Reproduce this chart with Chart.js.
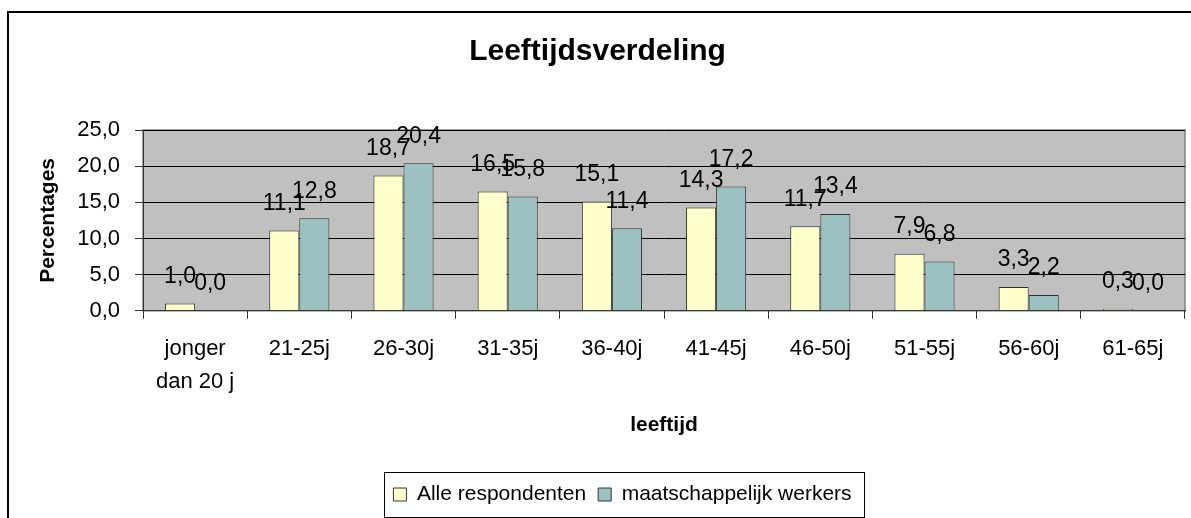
<!DOCTYPE html>
<html>
<head>
<meta charset="utf-8">
<title>Leeftijdsverdeling</title>
<script src="https://cdn.jsdelivr.net/npm/chart.js@4.4.1/dist/chart.umd.min.js"></script>
<style>
  html, body { margin: 0; padding: 0; background: #ffffff; overflow: hidden; }
  #chartBox { width: 1191px; height: 518px; }
</style>
</head>
<body>
<div id="chartBox"><canvas id="ageChart" width="1191" height="518"></canvas></div>
<script>
// Chart data
const categories = [
  ['jonger', 'dan 20 j'], '21-25j', '26-30j', '31-35j', '36-40j',
  '41-45j', '46-50j', '51-55j', '56-60j', '61-65j'
];
const alleRespondenten = [1.0, 11.1, 18.7, 16.5, 15.1, 14.3, 11.7, 7.9, 3.3, 0.3];
const maatschappelijkWerkers = [0.0, 12.8, 20.4, 15.8, 11.4, 17.2, 13.4, 6.8, 2.2, 0.0];
const yTicks = [0, 5, 10, 15, 20, 25];

const FONT = "'Liberation Sans', Arial, sans-serif";

function fmt(v) {
  return Number(v).toFixed(1).replace('.', ',');
}

// Outer frame, grey plot area, legend frame
const excelLook = {
  id: 'excelLook',
  beforeDraw(chart) {
    const ctx = chart.ctx;
    const a = chart.chartArea;
    ctx.save();
    ctx.strokeStyle = '#000';
    ctx.lineWidth = 2;
    ctx.strokeRect(8, 12, 1400, 800);
    ctx.fillStyle = '#c0c0c0';
    ctx.fillRect(a.left, a.top, a.right - a.left, a.bottom - a.top);
    ctx.strokeStyle = '#808080';
    ctx.lineWidth = 1.5;
    ctx.strokeRect(a.left, a.top, a.right - a.left, a.bottom - a.top);
    ctx.restore();
  },
  afterLayout(chart) {
    const legend = chart.legend;
    const shift = 25;
    legend.left += shift;
    legend.right += shift;
    legend.legendHitBoxes.forEach(b => { b.left += shift; });
  },
  afterDraw(chart) {
    const boxes = chart.legend.legendHitBoxes;
    if (!boxes.length) return;
    const first = boxes[0];
    const last = boxes[boxes.length - 1];
    const cy = first.top + first.height / 2;
    const ctx = chart.ctx;
    ctx.save();
    ctx.strokeStyle = '#000';
    ctx.lineWidth = 1;
    ctx.strokeRect(Math.round(first.left - 9) + 0.5, Math.round(cy - 23) + 0.5,
      Math.round(last.left + last.width - first.left + 22), 45);
    ctx.restore();
  }
};

// Value labels above the bars
const barLabels = {
  id: 'barLabels',
  afterDatasetsDraw(chart) {
    const ctx = chart.ctx;
    ctx.save();
    ctx.font = '23px ' + FONT;
    ctx.fillStyle = '#000';
    ctx.textAlign = 'center';
    ctx.textBaseline = 'middle';
    chart.data.datasets.forEach((ds, i) => {
      const meta = chart.getDatasetMeta(i);
      meta.data.forEach((bar, j) => {
        ctx.fillText(fmt(ds.data[j]), bar.x, bar.y - 27);
      });
    });
    ctx.restore();
  }
};

const ctx = document.getElementById('ageChart').getContext('2d');
new Chart(ctx, {
  type: 'bar',
  data: {
    labels: categories,
    datasets: [
      {
        label: 'Alle respondenten',
        data: alleRespondenten,
        backgroundColor: '#ffffcc',
        borderColor: '#333333',
        borderWidth: 1
      },
      {
        label: 'maatschappelijk werkers',
        data: maatschappelijkWerkers,
        backgroundColor: '#9cc1c0',
        borderColor: '#333333',
        borderWidth: 1
      }
    ]
  },
  options: {
    responsive: false,
    animation: false,
    layout: {
      padding: { top: 12, left: 10, right: 6, bottom: 3 }
    },
    datasets: {
      bar: {
        categoryPercentage: 0.577,
        barPercentage: 1
      }
    },
    plugins: {
      title: {
        display: true,
        text: 'Leeftijdsverdeling',
        color: '#000',
        font: { family: FONT, size: 30, weight: 'bold', lineHeight: 1.2 },
        padding: { top: 22, bottom: 60 }
      },
      legend: {
        display: true,
        position: 'bottom',
        labels: {
          color: '#000',
          boxWidth: 13,
          boxHeight: 13,
          padding: 12,
          font: { family: FONT, size: 21 }
        }
      },
      tooltip: { enabled: false }
    },
    scales: {
      x: {
        grid: {
          offset: true,
          drawOnChartArea: false,
          drawTicks: true,
          tickLength: 8,
          tickColor: '#333'
        },
        border: { display: true, color: '#333', width: 1 },
        ticks: {
          color: '#000',
          padding: 14,
          maxRotation: 0,
          autoSkip: false,
          font: { family: FONT, size: 22, lineHeight: 1.5 }
        },
        title: {
          display: true,
          text: 'leeftijd',
          color: '#000',
          font: { family: FONT, size: 21, weight: 'bold', lineHeight: 1.2 },
          padding: { top: 0, bottom: 34 }
        }
      },
      y: {
        min: 0,
        max: 25,
        afterBuildTicks(axis) {
          axis.ticks = yTicks.map(v => ({ value: v }));
        },
        grid: {
          color: '#000',
          lineWidth: 1,
          drawTicks: true,
          tickLength: 8,
          tickColor: '#333'
        },
        border: { display: true, color: '#333', width: 1 },
        ticks: {
          color: '#000',
          padding: 15,
          font: { family: FONT, size: 22 },
          callback: v => fmt(v)
        },
        title: {
          display: true,
          text: 'Percentages',
          color: '#000',
          font: { family: FONT, size: 21, weight: 'bold', lineHeight: 1.2 },
          padding: { top: 26, bottom: 1 }
        }
      }
    }
  },
  plugins: [excelLook, barLabels]
});
</script>
</body>
</html>
